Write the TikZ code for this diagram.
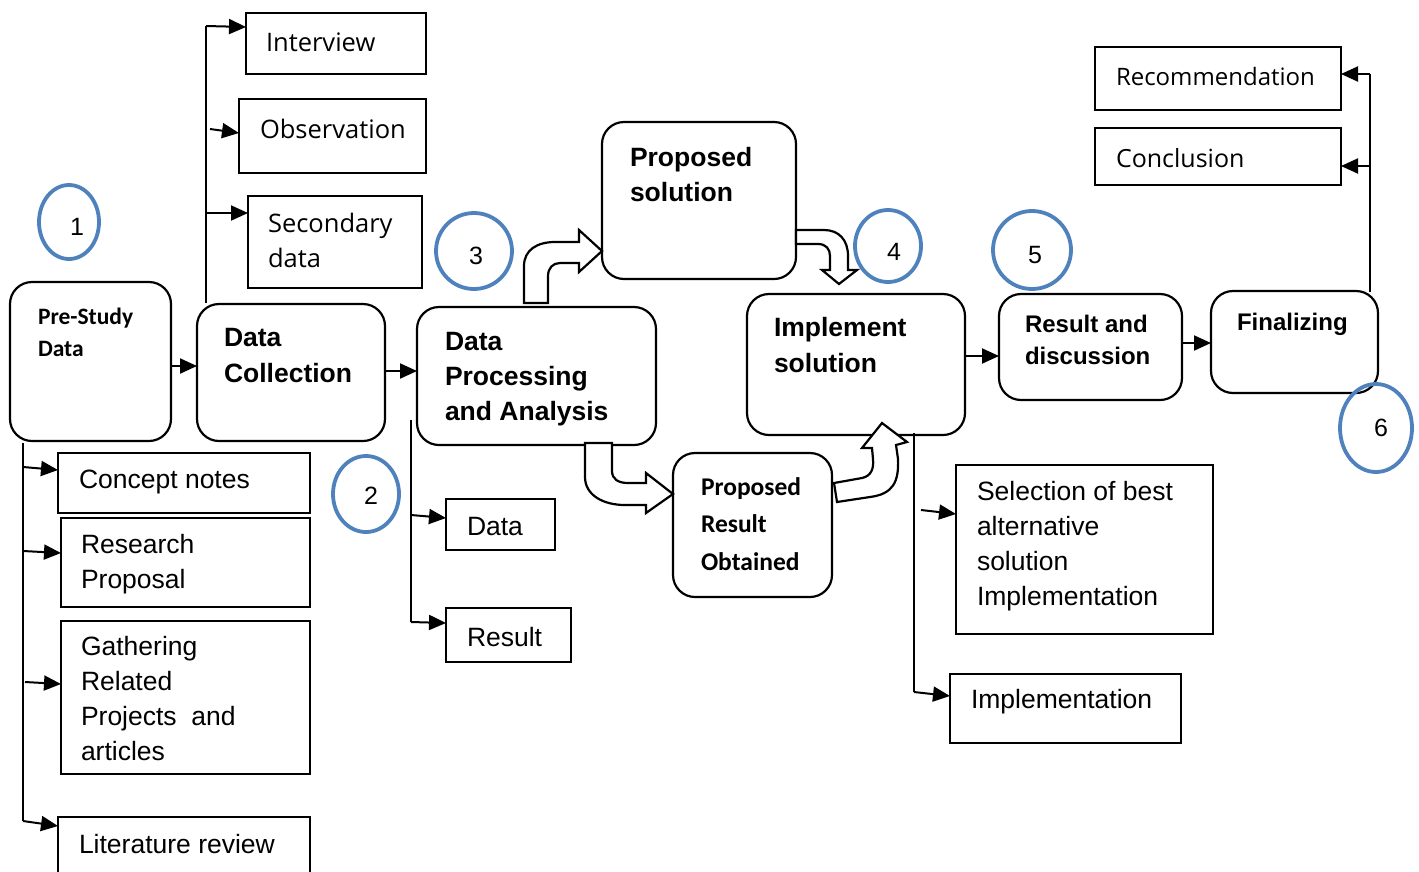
\documentclass[tikz,border=0pt]{standalone}
\usepackage{fontspec}
\setmainfont{Liberation Sans}
\newfontfamily\calfont{Carlito}
\newfontfamily\opsfont{Open Sans}
\usetikzlibrary{arrows.meta,shapes.geometric,calc}
\definecolor{cblue}{RGB}{79,129,189}
\newcommand\ml[1]{\begin{tabular}[t]{@{}l@{}}#1\end{tabular}}
\newcommand\fs[2]{\fontsize{#1}{#2}\selectfont}
\newcommand\bx[6]{\node[#1, minimum width={#5pt-#3pt}, minimum height={#6pt-#4pt}] (#2) at ({(#3+#5)/2},{(#4+#6)/2}) {};}
\begin{document}
\begin{tikzpicture}[x=1pt,y=-1pt,
  rb/.style={draw, line width=2.2pt, rounded corners=22pt, inner sep=0pt, outer sep=0pt},
  sb/.style={draw, line width=2pt, inner sep=0pt, outer sep=0pt},
  circ/.style={draw=cblue, line width=3.8pt, ellipse, inner sep=0pt, outer sep=0pt},
  arr/.style={line width=2pt, -{Triangle[length=17pt,width=15pt]}},
  ln/.style={line width=2pt},
  blk/.style={draw, fill=white, line width=2.2pt, line join=miter},
  txt/.style={anchor=base west, inner sep=0pt, outer sep=0pt},
  num/.style={inner sep=0pt, font=\fs{25}{30}}]
\useasboundingbox (0,0) rectangle (1419,871);
\clip (0,0) rectangle (1419,871);

% square boxes
\bx{sb}{int}{246}{13}{426}{74}
\bx{sb}{obs}{239}{99}{426}{173}
\bx{sb}{sec}{248}{196}{422}{288}
\bx{sb}{cn}{58}{453}{310}{513}
\bx{sb}{rp}{61}{518}{310}{607}
\bx{sb}{gr}{61}{621}{310}{774}
\bx{sb}{lr}{58}{817}{310}{900}
\bx{sb}{dat}{446}{499}{555}{550}
\bx{sb}{res}{446}{608}{571}{662}
\bx{sb}{sel}{956}{465}{1213}{634}
\bx{sb}{imp}{950}{674}{1181}{743}
\bx{sb}{rec}{1095}{47}{1341}{110}
\bx{sb}{con}{1095}{128}{1341}{185}

% rounded boxes
\bx{rb}{pre}{10}{282}{171}{441}
\bx{rb}{dc}{197}{304}{385}{441}
\bx{rb}{dp}{417}{307}{656}{445}
\bx{rb}{ps}{602}{122}{796}{279}
\bx{rb}{is}{747}{294}{965}{435}
\bx{rb}{pr}{673}{453}{832}{597}
\bx{rb}{rd}{999}{294}{1182}{400}
\bx{rb}{fin}{1211}{291}{1378}{393}

% block arrows
\draw[blk] (524,303) -- (524,266) .. controls (524,250) and (537,242) .. (555,242) -- (579,242) -- (579,230) -- (602,251) -- (579,272) -- (579,263) -- (560,263) .. controls (553,263) and (548,268) .. (548,276) -- (548,303) -- cycle;
\draw[blk] (796,230) -- (824,230) .. controls (839,230) and (848,240) .. (848,256) -- (848,270) -- (857,270) -- (839,284) -- (822,270) -- (830,270) -- (830,256) .. controls (830,249) and (826,244) .. (818,244) -- (796,244) -- cycle;
\draw[blk] (585,443) -- (585,477) .. controls (585,495) and (603,505) .. (625,505) -- (646,505) -- (646,513) -- (673,494) -- (646,473) -- (646,483) -- (628,483) .. controls (618,483) and (612,479) .. (612,471) -- (612,443) -- cycle;
\draw[blk] (834,483) -- (862,478) .. controls (871,476) and (874,469) .. (873,459) -- (872,448) -- (862,448) -- (882,423) -- (907,442) -- (896,445) -- (898,459) .. controls (899,482) and (893,494) .. (870,497) -- (837,502) -- cycle;

% main flow arrows
\draw[arr] ($(pre.north east)+(0,84)$) -- ($(dc.north west)+(0,62)$);
\draw[arr] ($(dc.north east)+(0,67)$) -- ($(dp.north west)+(0,64)$);
\draw[arr] ($(is.north east)+(0,62)$) -- ($(rd.north west)+(0,62)$);
\draw[arr] ($(rd.north east)+(0,49)$) -- ($(fin.north west)+(0,52)$);

% data collection branch
\coordinate (dv1) at (206,303);
\coordinate (dv2) at (206,26);
\coordinate (dvo) at (210,129);
\coordinate (dvs) at (206,213);
\draw[ln] (dv1) -- (dv2);
\draw[arr] (dv2) -- ($(int.north west)+(0,14)$);
\draw[arr] (dvo) -- ($(obs.north west)+(0,34)$);
\draw[arr] (dvs) -- ($(sec.north west)+(0,17)$);

% pre-study branch
\coordinate (pv1) at (23,443);
\coordinate (pv2) at (23,821);
\coordinate (pvc) at (23,467);
\coordinate (pvr) at (23,551);
\coordinate (pvg) at (25,682);
\draw[ln] (pv1) -- (pv2);
\draw[arr] (pv2) -- ($(lr.north west)+(0,9)$);
\draw[arr] (pvc) -- ($(cn.north west)+(0,17)$);
\draw[arr] (pvr) -- ($(rp.north west)+(0,35)$);
\draw[arr] (pvg) -- ($(gr.north west)+(0,63)$);

% data processing branch
\coordinate (qv1) at (411,420);
\coordinate (qv2) at (411,622);
\coordinate (qvd) at (411,515);
\draw[ln] (qv1) -- (qv2);
\draw[arr] (qvd) -- ($(dat.north west)+(0,19)$);
\draw[arr] (qv2) -- ($(res.north west)+(0,15)$);

% implement branch
\coordinate (iv1) at (914,433);
\coordinate (iv2) at (914,692);
\coordinate (ivs) at (921,510);
\draw[ln] (iv1) -- (iv2);
\draw[arr] (ivs) -- ($(sel.north west)+(0,49)$);
\draw[arr] (iv2) -- ($(imp.north west)+(0,22)$);

% finalizing branch
\coordinate (fv1) at (1370,292);
\coordinate (fv2) at (1370,74);
\coordinate (fvc) at (1370,166);
\draw[ln] (fv1) -- (fv2);
\draw[arr] (fv2) -- ($(rec.north east)+(0,27)$);
\draw[arr] (fvc) -- ($(con.north east)+(0,38)$);

% circles
\node[circ, minimum width=60pt, minimum height=74pt] (c1) at (69,222) {};
\node[circ, minimum width=66pt, minimum height=76pt] (c2) at (366,494) {};
\node[circ, minimum width=76pt, minimum height=76pt] (c3) at (474,251) {};
\node[circ, minimum width=66pt, minimum height=72pt] (c4) at (888,246) {};
\node[circ, minimum width=78pt, minimum height=78pt] (c5) at (1032,250) {};
\node[circ, minimum width=72pt, minimum height=88pt] (c6) at (1376,428) {};
\node[num] (n1) at (77,227) {1};
\node[num] (n2) at (371,496) {2};
\node[num] (n3) at (476,256) {3};
\node[num] (n4) at (894,252) {4};
\node[num] (n5) at (1035,255) {5};
\node[num] (n6) at (1381,428) {6};

% texts
\node[txt] (tpre) at (38,324) {\calfont\bfseries\fs{23.5}{32}\ml{Pre-Study\\Data}};
\node[txt] (tdc) at (224,346) {\bfseries\fs{26.5}{36}\ml{Data\\Collection}};
\node[txt] (tdp) at (445,350) {\bfseries\fs{26.5}{35}\ml{Data\\Processing\\and Analysis}};
\node[txt] (tps) at (630,166) {\bfseries\fs{26.5}{35}\ml{Proposed\\solution}};
\node[txt] (tis) at (774,336) {\bfseries\fs{26.5}{36}\ml{Implement\\solution}};
\node[txt] (tpr) at (701,495) {\calfont\bfseries\fs{25.5}{37.5}\ml{Proposed\\Result\\Obtained}};
\node[txt] (trd) at (1025,332) {\bfseries\fs{24}{32}\ml{Result and\\discussion}};
\node[txt] (tfin) at (1237,330) {\bfseries\fs{24}{30}Finalizing};
\node[txt] (tint) at (266,51) {\opsfont\fs{25.5}{30}Interview};
\node[txt] (tobs) at (260,138) {\opsfont\fs{25.5}{30}Observation};
\node[txt] (tsec) at (268,232) {\opsfont\fs{25.5}{35.5}\ml{Secondary\\data}};
\node[txt] (trec) at (1116,85) {\opsfont\fs{24}{30}Recommendation};
\node[txt] (tcon) at (1116,167) {\opsfont\fs{25}{30}Conclusion};
\node[txt] (tcn) at (79,488) {\fs{26.5}{35}Concept notes};
\node[txt] (trp) at (81,553) {\fs{26.5}{35}\ml{Research\\Proposal}};
\node[txt] (tgr) at (81,655) {\fs{26.5}{35}\ml{Gathering\\Related\\Projects\ \ and\\articles}};
\node[txt] (tlr) at (79,853) {\fs{26.5}{35}Literature review};
\node[txt] (tdat) at (467,535) {\fs{26.5}{35}Data};
\node[txt] (tres) at (467,646) {\fs{26.5}{35}Result};
\node[txt] (tsel) at (977,500) {\fs{26.5}{35}\ml{Selection of best\\alternative\\solution\\Implementation}};
\node[txt] (timp) at (971,708) {\fs{26.5}{35}Implementation};
\end{tikzpicture}
\end{document}
